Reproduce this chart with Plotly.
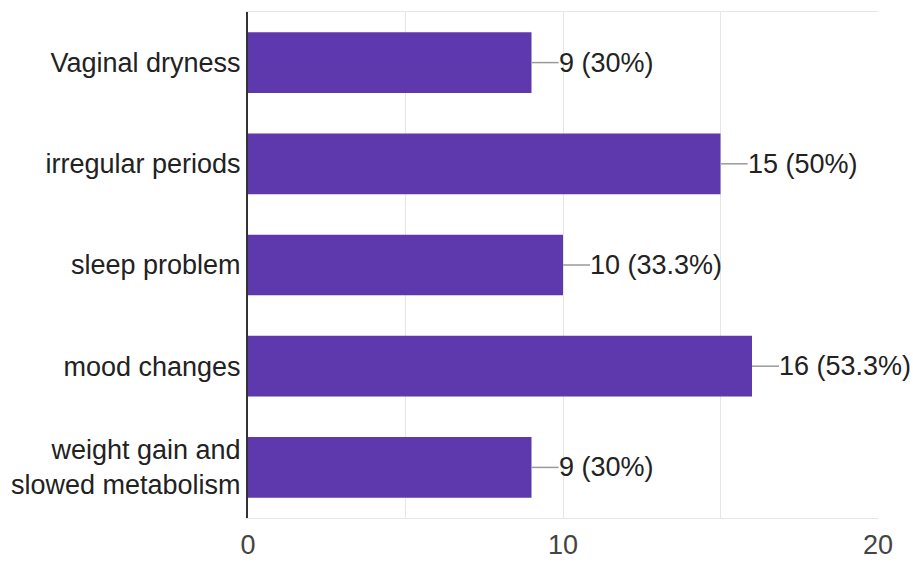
import plotly.graph_objects as go

# Survey responses: symptom categories and counts
categories = [
    "Vaginal dryness",
    "irregular periods",
    "sleep problem",
    "mood changes",
    "weight gain and<br>slowed metabolism",
]
counts = [9, 15, 10, 16, 9]
percents = ["30%", "50%", "33.3%", "53.3%", "30%"]
x_ticks = [0, 10, 20]

BAR_COLOR = "#5e39ad"
FONT = "Liberation Sans, Arial, sans-serif"

fig = go.Figure(
    go.Bar(
        x=counts,
        y=categories,
        orientation="h",
        marker=dict(color=BAR_COLOR, line=dict(width=0)),
        hoverinfo="skip",
    )
)

# leader line + value label beside each bar
leader = 0.86
for cat, c, p in zip(categories, counts, percents):
    fig.add_shape(
        type="line", xref="x", yref="y",
        x0=c, x1=c + leader, y0=cat, y1=cat,
        line=dict(color="#9a9a9a", width=1.5),
    )
    fig.add_annotation(
        x=c + leader, y=cat, xref="x", yref="y",
        text=f"{c} ({p})", showarrow=False,
        xanchor="left", yanchor="middle", xshift=-2,
        font=dict(family=FONT, size=27, color="#222222"),
    )

fig.update_layout(
    width=913, height=563,
    margin=dict(l=248, r=35, t=12, b=45),
    paper_bgcolor="white", plot_bgcolor="white",
    bargap=0.4, showlegend=False,
    font=dict(family=FONT, color="#333333"),
)
fig.update_xaxes(
    range=[0, 20], tickvals=x_ticks, ticktext=[str(t) for t in x_ticks],
    showgrid=True, gridcolor="#e6e6e6", gridwidth=1,
    minor=dict(dtick=5, showgrid=True, gridcolor="#e6e6e6"),
    showline=True, mirror=True, linecolor="#e6e6e6", linewidth=1,
    zeroline=False, ticks="", ticklabelstandoff=3, automargin=False,
    tickfont=dict(family=FONT, size=27, color="#444444"),
)
fig.update_yaxes(
    categoryorder="array", categoryarray=categories[::-1],
    showline=True, linecolor="#333333", linewidth=2,
    showgrid=False, ticks="", ticklabelstandoff=0, automargin=False,
    tickfont=dict(family=FONT, size=27, color="#222222"),
)

fig.write_html("out.html")
